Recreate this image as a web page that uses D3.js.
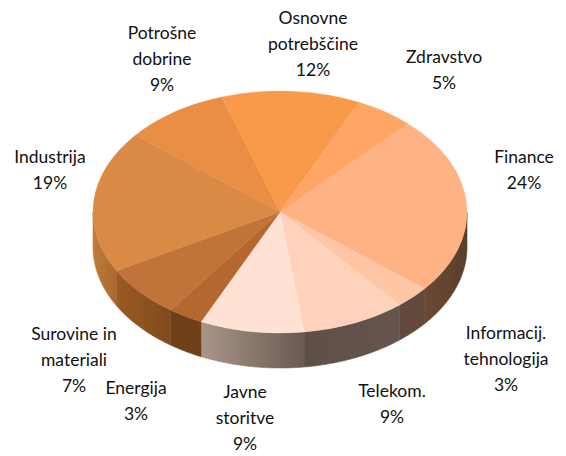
<!DOCTYPE html>
<html><head><meta charset="utf-8">
<script src="https://cdn.jsdelivr.net/npm/d3@7"></script>
<style>html,body{margin:0;padding:0;background:#fff}svg{display:block}text{font-family:Lato,sans-serif;font-size:17.5px;fill:#111}</style>
</head><body><svg id="c" width="566" height="456"></svg>
<script>
const categories=["Finance","Informacij. tehnologija","Telekom.","Javne storitve","Energija","Surovine in materiali","Industrija","Potrošne dobrine","Osnovne potrebščine","Zdravstvo"];
const values=[24,3,9,9,3,7,19,9,12,5];
const labelLines=[["Finance","24%"],["Informacij.","tehnologija","3%"],["Telekom.","9%"],["Javne","storitve","9%"],["Energija","3%"],["Surovine in","materiali","7%"],["Industrija","19%"],["Potrošne","dobrine","9%"],["Osnovne","potrebščine","12%"],["Zdravstvo","5%"]];
const topColors=["#ffb385","#ffc6a5","#ffd3bb","#ffe2d3","#b4672e","#c0743a","#d98a45","#e98e45","#f89a4a","#ffa565"];
const sideFrom=["#5a3f2b","#654a3c","#66544e","#a99689","#6f4018","#9a5b25","#c27c3c","#000","#000","#000"];
const sideTo=["#6b4a33","#60483d","#5f4f49","#6b5a52","#6f4018","#7e4b1c","#a8682e","#000","#000","#000"];
const labelPos=[[524,157],[506,333],[392,391],[245,392],[136,388],[74,334],[50,157],[162,33],[313,18],[444,57]];

const W=566,H=456,cx=280,cy=212,rx=187,ry=121,depth=35,lh=26;
const svg=d3.select("#c");
const start=43*Math.PI/180;
const pie=d3.pie().sort(null).startAngle(start).endAngle(start+2*Math.PI);
const arcs=pie(values);
const arc=d3.arc().innerRadius(0).outerRadius(rx);
const defs=svg.append("defs");
const px=a=>cx+rx*Math.sin(a), py=a=>cy-ry*Math.cos(a);
const front0=Math.PI/2, front1=3*Math.PI/2;
const g=svg.append("g");
arcs.forEach((d,i)=>{
  const a0=Math.max(d.startAngle,front0),a1=Math.min(d.endAngle,front1);
  if(a1<=a0)return;
  const id="s"+i;
  const gr=defs.append("linearGradient").attr("id",id).attr("gradientUnits","userSpaceOnUse")
    .attr("x1",px(a1)).attr("x2",px(a0)).attr("y1",0).attr("y2",0);
  // left to right: a1 is the left end on the front half
  gr.append("stop").attr("offset",0).attr("stop-color",px(a1)<cx?sideFrom[i]:sideTo[i]);
  gr.append("stop").attr("offset",1).attr("stop-color",px(a1)<cx?sideTo[i]:sideFrom[i]);
  const n=40,pts=d3.range(n+1).map(k=>a0+(a1-a0)*k/n);
  const top=pts.map(a=>[px(a),py(a)]);
  const bot=pts.slice().reverse().map(a=>[px(a),py(a)+depth]);
  g.append("path").attr("d",d3.line()(top.concat(bot))+"Z").attr("fill",`url(#${id})`).attr("stroke",`url(#${id})`).attr("stroke-width",0.6);
});
const t=svg.append("g").attr("transform",`translate(${cx},${cy}) scale(1,${ry/rx})`);
t.selectAll("path").data(arcs).join("path").attr("d",arc).attr("fill",(d,i)=>topColors[i]).attr("stroke",(d,i)=>topColors[i]).attr("stroke-width",0.4);
labelLines.forEach((ls,i)=>{
  const tx=svg.append("text").attr("text-anchor","middle");
  ls.forEach((s,k)=>tx.append("tspan").attr("x",labelPos[i][0]).attr("y",labelPos[i][1]+k*lh).attr("dy","0.35em").text(s));
});
</script></body></html>
